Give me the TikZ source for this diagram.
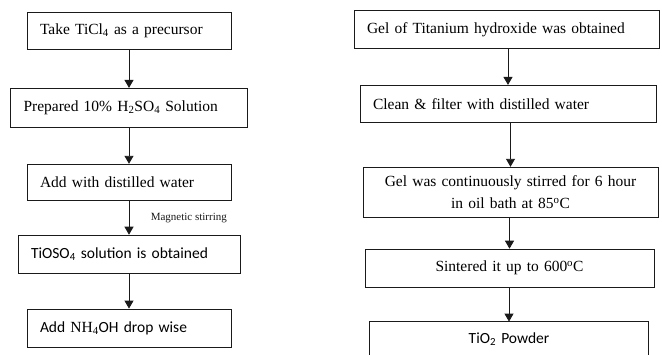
\documentclass[tikz,border=0pt]{standalone}
\usepackage{fontspec}
\setmainfont{Liberation Serif}
\newfontfamily\calib{Carlito}
\usepackage{tikz}
\usetikzlibrary{positioning,arrows.meta}
\definecolor{ink}{HTML}{1A1A1A}
\tikzset{
  rim/.style={draw=ink, line width=0.9pt},
  box/.style={rim, fill=white, inner xsep=13pt, inner ysep=0pt, align=left,
              font=\fontsize{15.5}{19}\selectfont},
  sbox/.style={box, font=\fontsize{15.5}{19}\selectfont\calib},
  ar/.style={-{Triangle[length=8pt,width=9pt]}, line width=0.9pt, color=ink},
  lbl/.style={font=\fontsize{11}{13}\selectfont},
}

\begin{document}
\begin{tikzpicture}[x=1pt,y=-1pt]
\useasboundingbox (0,0) rectangle (662,354);
\clip (0,0) rectangle (662,354);

% left column
\node[box, text width=178pt, minimum height=37pt, anchor=north] (ticl) at (129,12) {Take TiCl\textsubscript{4} as a precursor};
\node[box, text width=211pt, minimum height=39pt] (acid) [below=38pt of ticl] {Prepared 10\% H\textsubscript{2}SO\textsubscript{4} Solution};
\node[box, text width=178pt, minimum height=36pt] (water) [below=36pt of acid] {Add with distilled water};
\node[sbox, text width=196pt, minimum height=38pt] (tioso) [below=34pt of water] {TiOSO\textsubscript{4} solution is obtained};
\node[sbox, text width=178pt, minimum height=38pt] (nh) [below=35pt of tioso] {Add {\rmfamily NH\textsubscript{4}}OH drop wise};

\draw[ar] (ticl.south -| acid.north) -- (acid.north);
\draw[ar] (acid.south -| water.north) -- (water.north);
\draw[ar] (water.south -| tioso.north) -- node[lbl, right=18pt] {Magnetic stirring} (tioso.north);
\draw[ar] (tioso.south -| nh.north) -- (nh.north);

% right column
\node[box, text width=279pt, minimum height=38pt, anchor=north] (gel) at (506.5,10) {Gel of Titanium hydroxide was obtained};
\node[box, text width=270pt, minimum height=37pt] (clean) [below=36pt of gel, xshift=1.5pt] {Clean \& filter with distilled water};
\node[box, text width=269pt, minimum height=50pt, align=center, font=\fontsize{15.5}{22}\selectfont] (stir) [below=44pt of clean, xshift=2.5pt] {Gel was continuously stirred for 6 hour\\in oil bath at 85\textsuperscript{o}C};
\node[box, text width=263pt, minimum height=38pt, align=center] (sinter) [below=31pt of stir, xshift=-1pt] {Sintered it up to 600\textsuperscript{o}C};
\node[sbox, draw=none, text width=252pt, minimum height=34pt, align=center] (tio) [below=34pt of sinter, xshift=-0.5pt] {TiO\textsubscript{2} Powder};
\draw[rim] ([yshift=-30pt]tio.south west) -- (tio.north west) -- (tio.north east) -- ([yshift=-30pt]tio.south east);

\draw[ar] (gel.south -| clean.north) -- (clean.north);
\draw[ar] (clean.south -| stir.north) -- (stir.north);
\draw[ar] (stir.south -| sinter.north) -- (sinter.north);
\draw[ar] (sinter.south -| tio.north) -- (tio.north);

\end{tikzpicture}
\end{document}
